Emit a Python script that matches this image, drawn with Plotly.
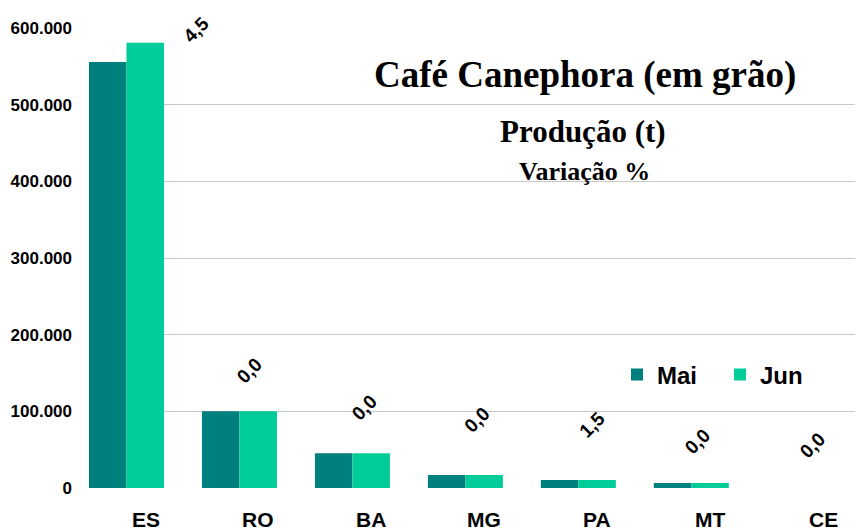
import plotly.graph_objects as go

estados = ["ES", "RO", "BA", "MG", "PA", "MT", "CE"]
producao_mai = [555600, 100000, 45200, 17000, 10400, 6500, 0]
producao_jun = [580600, 100000, 45200, 17000, 10560, 6500, 0]
variacao = ["4,5", "0,0", "0,0", "0,0", "1,5", "0,0", "0,0"]
y_ticks = [0, 100000, 200000, 300000, 400000, 500000, 600000]
y_tick_text = ["0", "100.000", "200.000", "300.000", "400.000", "500.000", "600.000"]

# label offsets (pixels) relative to the top of the Jun bar / category centre
lab_xshift = [70, 10, 12, 12, 14, 6, 8]
lab_yshift = [13, 41, 46, 55, 55, 42, 43]

# the page body has an 8px margin, so the figure is drawn 8px in from the window
OFF = 8
W, H = 863 - OFF, 530 - OFF
L, R, T, B = 89 - OFF, 0, 28 - OFF, 530 - 488

fig = go.Figure()
fig.add_trace(go.Bar(name="Mai", x=list(range(len(estados))), y=producao_mai,
                     marker=dict(color="#007F7F", line=dict(width=0))))
fig.add_trace(go.Bar(name="Jun", x=list(range(len(estados))), y=producao_jun,
                     marker=dict(color="#00CC99", line=dict(width=0))))

ann = []
for i, (v, yv) in enumerate(zip(variacao, producao_jun)):
    ann.append(dict(x=i, y=yv, xref="x", yref="y", text=v, showarrow=False,
                    textangle=-45, xanchor="center", yanchor="middle",
                    xshift=lab_xshift[i], yshift=lab_yshift[i],
                    font=dict(family="Liberation Sans", size=19, color="black", weight="bold")))

# category labels (sit slightly right of each bar group, as in the original)
for i, est in enumerate(estados):
    ann.append(dict(x=i, y=0, xref="x", yref="y", text=est, showarrow=False,
                    xanchor="center", yanchor="middle", xshift=19, yshift=-31,
                    font=dict(family="Liberation Sans", size=21, color="black", weight="bold")))

pw = W - L - R
ph = H - T - B
def px(x):  # window pixel -> paper
    return (x - OFF - L) / pw
def py(y):
    return (H - B - (y - OFF)) / ph

ann.append(dict(x=px(585), y=py(75), xref="paper", yref="paper", showarrow=False,
                text="<b>Café Canephora (em grão)</b>", xanchor="center", yanchor="middle",
                font=dict(family="Liberation Serif", size=37, color="black")))
ann.append(dict(x=px(583), y=py(131), xref="paper", yref="paper", showarrow=False,
                text="<b>Produção (t)</b>", xanchor="center", yanchor="middle",
                font=dict(family="Liberation Serif", size=31, color="black")))
ann.append(dict(x=px(584), y=py(171), xref="paper", yref="paper", showarrow=False,
                text="<b>Variação %</b>", xanchor="center", yanchor="middle",
                font=dict(family="Liberation Serif", size=26, color="black")))

fig.update_layout(
    width=W, height=H,
    margin=dict(l=L, r=R, t=T, b=B, pad=0, autoexpand=False),
    paper_bgcolor="white", plot_bgcolor="white",
    barmode="group", bargap=0.336, bargroupgap=0,
    font=dict(family="Liberation Sans", color="black"),
    annotations=ann,
    legend=dict(orientation="h", x=px(617), y=py(375), xanchor="left", yanchor="middle",
                font=dict(family="Liberation Sans", size=24, color="black", weight="bold"),
                bgcolor="rgba(0,0,0,0)", entrywidth=58, entrywidthmode="pixels",
                itemclick=False),
    xaxis=dict(range=[-0.332, 6.52], showticklabels=False, showgrid=False, zeroline=False,
               showline=False, ticks="", automargin=False),
    yaxis=dict(range=[0, 600000], tickmode="array", tickvals=y_ticks, ticktext=y_tick_text,
               showgrid=True, gridcolor="#C8C8C8", gridwidth=1.3, zeroline=False,
               showline=False, ticks="", ticklabelstandoff=16, automargin=False,
               tickfont=dict(family="Liberation Sans", size=17, color="black", weight="bold")),
)

fig.write_html("out.html")
